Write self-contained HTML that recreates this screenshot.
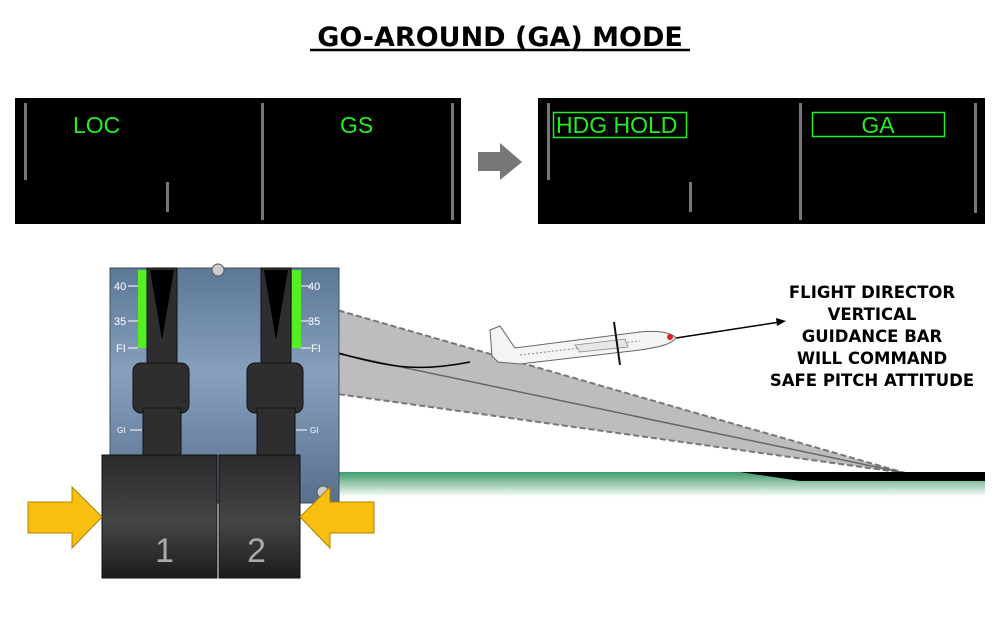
<!DOCTYPE html>
<html><head><style>
body{margin:0;background:#fff;width:1000px;height:625px;overflow:hidden;font-family:"DejaVu Sans","Liberation Sans",sans-serif}
</style></head><body>
<svg width="1000" height="625" xmlns="http://www.w3.org/2000/svg">
<defs>
<linearGradient id="gr" x1="0" y1="0" x2="0" y2="1"><stop offset="0" stop-color="#3f9a6a"/><stop offset="1" stop-color="#ffffff"/></linearGradient>
<linearGradient id="pn" x1="0" y1="0" x2="0" y2="1"><stop offset="0" stop-color="#5d7896"/><stop offset="0.45" stop-color="#86a0bd"/><stop offset="1" stop-color="#56708e"/></linearGradient>
<linearGradient id="hd" x1="0" y1="0" x2="0" y2="1"><stop offset="0" stop-color="#2a2a2a"/><stop offset="0.55" stop-color="#454545"/><stop offset="1" stop-color="#1c1c1c"/></linearGradient>
</defs>
<text x="500" y="46" text-anchor="middle" font-size="27" font-weight="bold" font-family="DejaVu Sans,sans-serif">GO-AROUND (GA) MODE</text>
<line x1="310" y1="50" x2="690" y2="50" stroke="#000" stroke-width="2.5"/>
<!-- left panel -->
<rect x="15" y="98" width="446" height="126" fill="#000"/>
<g fill="#777"><rect x="24" y="103" width="3" height="77"/><rect x="261" y="103" width="3" height="117"/><rect x="451" y="103" width="3" height="117"/><rect x="166" y="182" width="3" height="30"/></g>
<g fill="#22ee22" font-family="Liberation Sans,sans-serif" font-size="23"><text x="73" y="133">LOC</text><text x="340" y="133">GS</text></g>
<polygon points="478,152 500,152 500,143 522,162 500,180 500,171 478,171" fill="#777"/>
<!-- right panel -->
<rect x="538" y="98" width="447" height="126" fill="#000"/>
<g fill="#777"><rect x="547" y="103" width="3" height="77"/><rect x="799" y="103" width="3" height="117"/><rect x="974" y="103" width="3" height="110"/><rect x="689" y="182" width="3" height="30"/></g>
<g fill="none" stroke="#22ee22" stroke-width="1.5"><rect x="553.5" y="112.5" width="133" height="25"/><rect x="812.5" y="112.5" width="132" height="24"/></g>
<g fill="#22ee22" font-family="Liberation Sans,sans-serif" font-size="23"><text x="556" y="133">HDG  HOLD</text><text x="878" y="133" text-anchor="middle">GA</text></g>
<!-- beam -->
<polygon points="330,308 905,473 330,393" fill="#bdbdbd"/>
<line x1="330" y1="308" x2="905" y2="473" stroke="#777" stroke-width="2" stroke-dasharray="6,3"/>
<line x1="330" y1="393" x2="905" y2="473" stroke="#777" stroke-width="2" stroke-dasharray="6,3"/>
<line x1="330" y1="352" x2="905" y2="473" stroke="#666" stroke-width="1.5"/>
<path d="M335,352 C390,368 420,372 470,362" fill="none" stroke="#000" stroke-width="1.5"/>
<!-- ground -->
<rect x="330" y="472" width="655" height="25" fill="url(#gr)"/>
<polygon points="740,472 985,472 985,481 800,481" fill="#000"/>
<!-- plane -->
<path d="M490,330 L500,326 L515,348 L640,332 C660,330 672,333 676,338 C672,344 660,347 640,350 L520,364 L498,362 L492,356 Z" fill="#f4f4f4" stroke="#666" stroke-width="1"/>
<line x1="520" y1="355" x2="640" y2="341" stroke="#888" stroke-dasharray="2,2"/>
<path d="M575,345 L625,339 L628,347 L580,352 Z" fill="#e6e6e6" stroke="#888" stroke-width="0.8"/>
<line x1="614" y1="322" x2="620" y2="365" stroke="#111" stroke-width="2"/>
<circle cx="670" cy="337" r="3" fill="#d22"/>
<line x1="676" y1="338" x2="780" y2="322" stroke="#000" stroke-width="1.5"/>
<polygon points="786,321 776,318 777,326" fill="#000"/>
<g font-size="16.5" font-weight="bold" text-anchor="middle" font-family="DejaVu Sans,sans-serif">
<text x="872" y="298">FLIGHT DIRECTOR</text><text x="872" y="320">VERTICAL</text><text x="872" y="342">GUIDANCE BAR</text><text x="872" y="364">WILL COMMAND</text><text x="872" y="386">SAFE PITCH ATTITUDE</text></g>
<!-- throttle panel -->
<rect x="110" y="268" width="229" height="235" fill="url(#pn)" stroke="#3c4e63"/>
<rect x="138" y="270" width="9" height="78" fill="#55ee22"/><rect x="292" y="270" width="9" height="78" fill="#55ee22"/>
<g fill="#fff" font-size="11" font-family="Liberation Sans,sans-serif"><text x="114" y="290">40</text><text x="114" y="325">35</text><text x="116" y="352">FI</text><text x="117" y="433" font-size="8">GI</text>
<text x="308" y="290">40</text><text x="308" y="325">35</text><text x="311" y="352">FI</text><text x="310" y="433" font-size="8">GI</text></g>
<g stroke="#fff" stroke-width="1"><line x1="128" y1="286" x2="138" y2="286"/><line x1="128" y1="321" x2="138" y2="321"/><line x1="128" y1="348" x2="138" y2="348"/><line x1="130" y1="430" x2="142" y2="430"/>
<line x1="301" y1="286" x2="311" y2="286"/><line x1="301" y1="321" x2="311" y2="321"/><line x1="301" y1="348" x2="311" y2="348"/><line x1="296" y1="430" x2="307" y2="430"/></g>
<circle cx="218" cy="270" r="6" fill="#ccc" stroke="#555"/><circle cx="323" cy="492" r="6" fill="#ccc" stroke="#555"/>
<g fill="#2e2e2e" stroke="#111">
<rect x="147" y="268" width="30" height="100"/><rect x="261" y="268" width="30" height="100"/>
<rect x="133" y="363" width="56" height="50" rx="8"/><rect x="247" y="363" width="56" height="50" rx="8"/>
<rect x="143" y="408" width="38" height="50"/><rect x="257" y="408" width="38" height="50"/></g>
<polygon points="150,270 174,270 162,340" fill="#000"/><polygon points="264,270 288,270 276,340" fill="#000"/>
<rect x="102" y="455" width="115" height="123" fill="url(#hd)" stroke="#111"/>
<rect x="219" y="455" width="81" height="123" fill="url(#hd)" stroke="#111"/>
<g fill="#aaa" font-size="34" font-family="Liberation Sans,sans-serif"><text x="155" y="562">1</text><text x="247" y="562">2</text></g>
<polygon points="28,502 72,502 72,487 102,517 72,548 72,533 28,533" fill="#f8bf10" stroke="#b08000"/>
<polygon points="374,502 330,502 330,487 300,517 330,548 330,533 374,533" fill="#f8bf10" stroke="#b08000"/>
</svg>
</body></html>
